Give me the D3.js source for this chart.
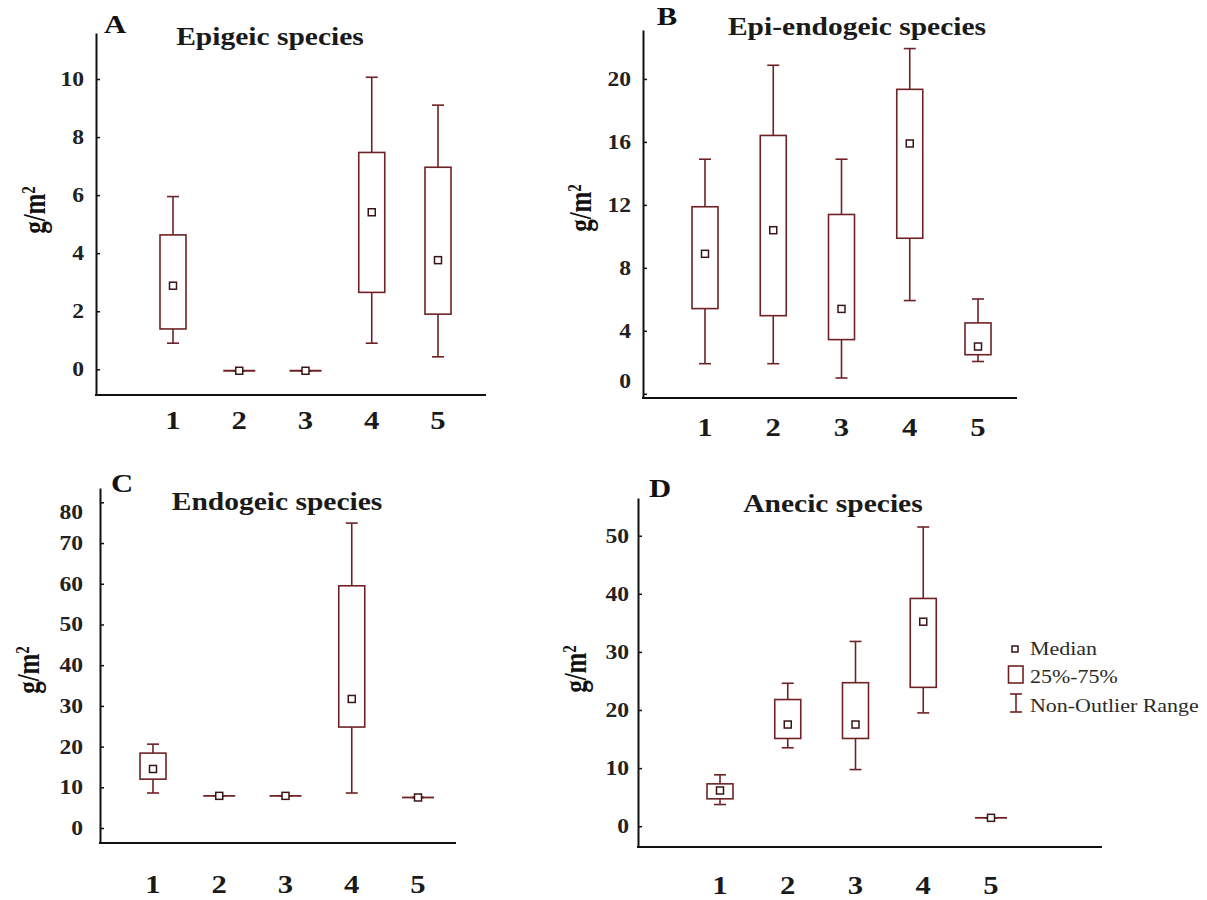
<!DOCTYPE html>
<html>
<head>
<meta charset="utf-8">
<script src="https://cdn.jsdelivr.net/npm/d3@7"></script>
<style>
  body { margin: 0; background: #fff; }
  svg text { font-family: "Liberation Serif", "Times New Roman", Times, serif; }
</style>
</head>
<body>
<div id="chart"></div>
<script>
var categories = ["1", "2", "3", "4", "5"];

// A - epigeic
var epigeicMin = [0.9, -0.05, -0.05, 0.9, 0.43];
var epigeicQ1  = [1.39, -0.05, -0.05, 2.65, 1.9];
var epigeicMed = [2.88, -0.05, -0.05, 5.41, 3.76];
var epigeicQ3  = [4.63, -0.05, -0.05, 7.47, 6.96];
var epigeicMax = [5.95, -0.05, -0.05, 10.06, 9.1];
var epigeicTicks = [0, 2, 4, 6, 8, 10];

// B - epi-endogeic
var epiendoMin = [1.91, 1.91, 1.0, 5.92, 2.05];
var epiendoQ1  = [5.41, 4.96, 3.44, 9.88, 2.48];
var epiendoMed = [8.89, 10.39, 5.39, 15.9, 3.0];
var epiendoQ3  = [11.88, 16.41, 11.39, 19.34, 4.5];
var epiendoMax = [14.9, 20.87, 14.9, 21.93, 6.02];
var epiendoTicks = [0, 4, 8, 12, 16, 20];

// C - endogeic
var endoMin = [8.6, 7.9, 7.9, 8.6, 7.5];
var endoQ1  = [12.0, 7.9, 7.9, 24.8, 7.5];
var endoMed = [14.5, 7.9, 7.9, 31.7, 7.5];
var endoQ3  = [18.4, 7.9, 7.9, 59.5, 7.5];
var endoMax = [20.6, 7.9, 7.9, 74.9, 7.5];
var endoTicks = [0, 10, 20, 30, 40, 50, 60, 70, 80];

// D - anecic
var anecicMin = [3.73, 13.5, 9.75, 19.5, 1.44];
var anecicQ1  = [4.71, 15.1, 15.1, 23.9, 1.44];
var anecicMed = [6.14, 17.5, 17.5, 35.2, 1.44];
var anecicQ3  = [7.29, 21.8, 24.7, 39.2, 1.44];
var anecicMax = [8.84, 24.6, 31.8, 51.5, 1.44];
var anecicTicks = [0, 10, 20, 30, 40, 50];

var legendLabels = ["Median", "25%-75%", "Non-Outlier Range"];

var boxColor = "#6e2226";
var W = 1207, H = 900;

var svg = d3.select("#chart").append("svg")
    .attr("width", W)
    .attr("height", H);

function stats(mn, q1, md, q3, mx) {
    return categories.map(function(c, i) {
        return {cat: c, min: mn[i], q1: q1[i], med: md[i], q3: q3[i], max: mx[i]};
    });
}

// shift: tick labels that sit off their tick in the original figure
var panels = [
    {letter: "A", title: "Epigeic species", data: stats(epigeicMin, epigeicQ1, epigeicMed, epigeicQ3, epigeicMax),
     ticks: epigeicTicks, domain: [-0.885, 11.585], yr: [395, 33], ax: 96, axEnd: 486, xr: [173, 438],
     pad: 12, letterPos: [115, 33], titlePos: [270, 45], catY: 429, ylab: [45, 210], shift: {}},
    {letter: "B", title: "Epi-endogeic species", data: stats(epiendoMin, epiendoQ1, epiendoMed, epiendoQ3, epiendoMax),
     ticks: epiendoTicks, domain: [-0.27, 23.11], yr: [398, 30], ax: 643, axEnd: 1017, xr: [705, 978],
     pad: 12, letterPos: [667, 25], titlePos: [857, 35], catY: 436, ylab: [591, 208], shift: {0: -13}},
    {letter: "C", title: "Endogeic species", data: stats(endoMin, endoQ1, endoMed, endoQ3, endoMax),
     ticks: endoTicks, domain: [-3.68, 83.52], yr: [843, 488], ax: 100, axEnd: 456, xr: [153, 418],
     pad: 17, letterPos: [122, 492], titlePos: [277, 510], catY: 893, ylab: [39, 670], shift: {80: 10}},
    {letter: "D", title: "Anecic species", data: stats(anecicMin, anecicQ1, anecicMed, anecicQ3, anecicMax),
     ticks: anecicTicks, domain: [-3.58, 56.49], yr: [847, 498], ax: 638, axEnd: 1102, xr: [720, 991],
     pad: 9, letterPos: [660, 497], titlePos: [833, 512], catY: 894, ylab: [586, 669], shift: {}}
];

var boxW = 26, capW = 12, medS = 7, flatW = 32;

panels.forEach(function(p) {
    var g = svg.append("g");
    var y = d3.scaleLinear().domain(p.domain).range(p.yr);
    var x = d3.scalePoint().domain(categories).range(p.xr);

    // y axis, ticks pointing inward
    var yAxis = d3.axisLeft(y)
        .tickValues(p.ticks)
        .tickSizeInner(-4)
        .tickSizeOuter(0)
        .tickPadding(p.pad)
        .tickFormat(d3.format("d"));
    var ya = g.append("g")
        .attr("transform", "translate(" + p.ax + ",0)")
        .call(yAxis);
    ya.select(".domain").attr("stroke", "#111").attr("stroke-width", 2);
    ya.selectAll(".tick line").attr("stroke", "#111").attr("stroke-width", 1.5);
    ya.selectAll(".tick text")
        .attr("fill", "#222")
        .attr("y", function(d) { return p.shift[d] || 0; })
        .style("font-size", "20px")
        .style("font-weight", "bold")
        .attr("class", "stretch");

    // x axis line
    g.append("line")
        .attr("x1", p.ax - 1).attr("x2", p.axEnd)
        .attr("y1", p.yr[0]).attr("y2", p.yr[0])
        .attr("stroke", "#111").attr("stroke-width", 2);

    // category labels
    g.selectAll(".cat")
        .data(categories)
        .enter().append("text")
        .attr("class", "cat stretch")
        .attr("x", function(d) { return x(d); })
        .attr("y", p.catY)
        .attr("text-anchor", "middle")
        .style("font-size", "26px")
        .style("font-weight", "bold")
        .attr("fill", "#1a1a1a")
        .text(function(d) { return d; });

    // boxes
    var b = g.selectAll(".box")
        .data(p.data)
        .enter().append("g")
        .attr("class", "box");

    b.append("line")
        .attr("x1", function(d) { return x(d.cat); })
        .attr("x2", function(d) { return x(d.cat); })
        .attr("y1", function(d) { return y(d.max); })
        .attr("y2", function(d) { return y(d.min); })
        .attr("stroke", boxColor).attr("stroke-width", 1.6);
    ["min", "max"].forEach(function(k) {
        b.append("line")
            .attr("x1", function(d) { return x(d.cat) - capW / 2; })
            .attr("x2", function(d) { return x(d.cat) + capW / 2; })
            .attr("y1", function(d) { return y(d[k]); })
            .attr("y2", function(d) { return y(d[k]); })
            .attr("stroke", boxColor).attr("stroke-width", 1.6);
    });
    b.filter(function(d) { return d.q3 > d.q1; })
        .append("rect")
        .attr("x", function(d) { return x(d.cat) - boxW / 2; })
        .attr("width", boxW)
        .attr("y", function(d) { return y(d.q3); })
        .attr("height", function(d) { return y(d.q1) - y(d.q3); })
        .attr("fill", "#fff")
        .attr("stroke", boxColor).attr("stroke-width", 1.6);
    // collapsed boxes show as a single flat line
    b.filter(function(d) { return d.q3 <= d.q1; })
        .append("line")
        .attr("x1", function(d) { return x(d.cat) - flatW / 2; })
        .attr("x2", function(d) { return x(d.cat) + flatW / 2; })
        .attr("y1", function(d) { return y(d.q1); })
        .attr("y2", function(d) { return y(d.q1); })
        .attr("stroke", boxColor).attr("stroke-width", 1.8);
    b.append("rect")
        .attr("x", function(d) { return x(d.cat) - medS / 2; })
        .attr("y", function(d) { return y(d.med) - medS / 2; })
        .attr("width", medS).attr("height", medS)
        .attr("fill", "#fff")
        .attr("stroke", "#3a1416").attr("stroke-width", 1.5);

    // panel letter and title
    g.append("text")
        .attr("class", "stretch")
        .attr("x", p.letterPos[0]).attr("y", p.letterPos[1])
        .attr("text-anchor", "middle")
        .style("font-size", "26px").style("font-weight", "bold")
        .attr("fill", "#111")
        .text(p.letter);
    g.append("text")
        .attr("class", "stretch")
        .attr("x", p.titlePos[0]).attr("y", p.titlePos[1])
        .attr("text-anchor", "middle")
        .style("font-size", "25px").style("font-weight", "bold")
        .attr("fill", "#1a1a1a")
        .text(p.title);

    // y label g/m2 (widened on screen like the rest of the scan)
    var yl = g.append("text")
        .attr("transform", "translate(" + p.ylab[0] + "," + p.ylab[1] + ") scale(1.25,1) rotate(-90)")
        .attr("text-anchor", "middle")
        .style("font-size", "25px").style("font-weight", "bold")
        .attr("fill", "#111");
    yl.append("tspan").text("g/m");
    yl.append("tspan").attr("dy", "-0.55em").style("font-size", "15px").text("2");
});

// legend
var lg = svg.append("g");
lg.append("rect")
    .attr("x", 1012).attr("y", 646).attr("width", 6).attr("height", 6)
    .attr("fill", "#fff").attr("stroke", "#3a1416").attr("stroke-width", 1.5);
lg.append("rect")
    .attr("x", 1008.5).attr("y", 666).attr("width", 14.5).attr("height", 17)
    .attr("fill", "#fff").attr("stroke", boxColor).attr("stroke-width", 1.6);
lg.append("line")
    .attr("x1", 1016).attr("x2", 1016).attr("y1", 694).attr("y2", 712)
    .attr("stroke", boxColor).attr("stroke-width", 1.6);
[694, 712].forEach(function(yy) {
    lg.append("line")
        .attr("x1", 1010).attr("x2", 1022).attr("y1", yy).attr("y2", yy)
        .attr("stroke", boxColor).attr("stroke-width", 1.6);
});
lg.selectAll(".leg")
    .data(legendLabels)
    .enter().append("text")
    .attr("class", "leg stretch")
    .attr("x", 1030)
    .attr("y", function(d, i) { return [655, 683, 712][i]; })
    .style("font-size", "18.6px")
    .attr("fill", "#2a2a2a")
    .text(function(d) { return d; });

// the scanned figure is slightly wider than tall; widen the glyphs to match
svg.selectAll("text.stretch").each(function() {
    var len = this.getComputedTextLength();
    d3.select(this)
        .attr("textLength", len * 1.18)
        .attr("lengthAdjust", "spacingAndGlyphs");
});
</script>
</body>
</html>
